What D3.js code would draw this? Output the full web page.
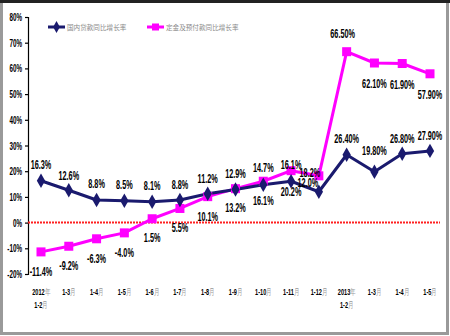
<!DOCTYPE html>
<html>
<head>
<meta charset="utf-8">
<script src="https://cdn.jsdelivr.net/npm/d3@7"></script>
<style>
  html, body { margin: 0; padding: 0; background: #fff; }
  svg { display: block; }
  .num { font-family: "Liberation Sans", "DejaVu Sans", sans-serif; font-weight: bold; fill: #000; }
</style>
</head>
<body>
<svg id="chart" width="450" height="336"></svg>
<script>
// Month periods (first line / second line of each tick label)
const periods = ["2012年", "1-3月", "1-4月", "1-5月", "1-6月", "1-7月", "1-8月", "1-9月",
                 "1-10月", "1-11月", "1-12月", "2013年", "1-3月", "1-4月", "1-5月"];
const periodSub = ["1-2月", "", "", "", "", "", "", "", "", "", "", "1-2月", "", "", ""];

// 国内贷款同比增长率 (%)
const loanGrowth = [16.3, 12.6, 8.8, 8.5, 8.1, 8.8, 11.2, 12.9, 14.7, 16.1, 12.0, 26.4, 19.8, 26.8, 27.9];
// 定金及预付款同比增长率 (%)
const depositGrowth = [-11.4, -9.2, -6.3, -4.0, 1.5, 5.5, 10.1, 13.2, 16.1, 20.2, 18.2, 66.5, 62.1, 61.9, 57.9];

const loanLabels = ["16.3%", "12.6%", "8.8%", "8.5%", "8.1%", "8.8%", "11.2%", "12.9%", "14.7%", "16.1%",
                    "12.0%", "26.40%", "19.80%", "26.80%", "27.90%"];
const depositLabels = ["-11.4%", "-9.2%", "-6.3%", "-4.0%", "1.5%", "5.5%", "10.1%", "13.2%", "16.1%", "20.2%",
                       "18.2%", "66.50%", "62.10%", "61.90%", "57.90%"];

const yTicks = [-20, -10, 0, 10, 20, 30, 40, 50, 60, 70, 80];
const seriesNames = ["国内贷款同比增长率", "定金及预付款同比增长率"];

const BLUE = "#1a1a6e";
const PINK = "#ff00ff";

const svg = d3.select("#chart");

// outer frame
svg.append("rect").attr("x", 1.5).attr("y", 1.5).attr("width", 446).attr("height", 332)
  .attr("fill", "#fff").attr("stroke", "#9a9a9a").attr("stroke-width", 3);
svg.append("line").attr("x1", 0).attr("x2", 450).attr("y1", 1.5).attr("y2", 1.5)
  .attr("stroke", "#222").attr("stroke-width", 3);

const x = d3.scalePoint().domain(d3.range(periods.length)).range([41, 430]);
const y = d3.scaleLinear().domain([-20, 80]).range([274, 17]);

// narrow text helper: a bold face squeezed horizontally
function narrowText(g, tx, ty, size, squeeze) {
  return g.append("text").attr("class", "num")
    .attr("transform", `translate(${tx},${ty}) scale(${squeeze},1)`)
    .attr("text-anchor", "middle").style("font-size", size + "px");
}

// y axis
const yAxis = d3.axisLeft(y).tickValues(yTicks).tickSize(3).tickFormat(d => d + "%");
const gy = svg.append("g").attr("transform", "translate(28,0)").call(yAxis);
gy.select(".domain").attr("stroke", "#000").attr("stroke-width", 1.2);
gy.selectAll(".tick line").attr("stroke", "#000").attr("stroke-width", 1.2);
gy.selectAll(".tick text").attr("class", "num")
  .attr("x", null).attr("dy", null)
  .attr("transform", "translate(-6,3.5) scale(0.6,1)")
  .style("font-size", "10.5px").attr("fill", "#000");

// zero reference line
svg.append("line").attr("x1", 28).attr("x2", 440).attr("y1", y(0)).attr("y2", y(0))
  .attr("stroke", "#ff2020").attr("stroke-width", 2).attr("stroke-dasharray", "2,1");

// x tick labels
const xl = svg.append("g");
function periodLabel(str, i, ty) {
  const m = str.match(/^([\d-]+)(.*)$/);
  const t = narrowText(xl, x(i), ty, 9, 0.62);
  t.append("tspan").text(m[1]);
  t.append("tspan").attr("fill", "#999").style("font-weight", "normal").text(m[2]);
}
periods.forEach((p, i) => {
  periodLabel(p, i, 295);
  if (periodSub[i]) periodLabel(periodSub[i], i, 308);
});

const line = d3.line().x((d, i) => x(i)).y(d => y(d));

// deposit series (drawn first so loan line sits on top where they cross)
svg.append("path").datum(depositGrowth).attr("d", line)
  .attr("fill", "none").attr("stroke", PINK).attr("stroke-width", 3).attr("stroke-linejoin", "round");
svg.append("path").datum(loanGrowth).attr("d", line)
  .attr("fill", "none").attr("stroke", BLUE).attr("stroke-width", 3).attr("stroke-linejoin", "round");

svg.append("g").selectAll("rect").data(depositGrowth).join("rect")
  .attr("x", (d, i) => x(i) - 4.5).attr("y", d => y(d) - 4.5)
  .attr("width", 9).attr("height", 9).attr("fill", PINK);

const diamond = d3.symbol().type(d3.symbolDiamond).size(60);
svg.append("g").selectAll("path").data(loanGrowth).join("path")
  .attr("transform", (d, i) => `translate(${x(i)},${y(d)})`)
  .attr("d", diamond).attr("fill", BLUE);

// value labels
const loanOff = [[0, -17], [0, -15], [0, -17], [0, -17], [0, -17], [0, -16], [0, -16], [0, -16], [0, -18],
                 [0, -17], [-11, -10], [0, -17], [0, -22], [0, -16], [0, -16]];
const depOff = [[0, 19], [0, 19], [0, 19], [0, 19], [0, 18], [0, 19], [0, 19], [0, 18], [0, 19],
                [0, 20], [-9, -4], [-4, -19], [0, 20], [0, 20], [0, 20]];

const lg = svg.append("g");
depositGrowth.forEach((d, i) => {
  narrowText(lg, x(i) + depOff[i][0], y(d) + depOff[i][1] + 5, 13, 0.56).text(depositLabels[i]);
});
loanGrowth.forEach((d, i) => {
  narrowText(lg, x(i) + loanOff[i][0], y(d) + loanOff[i][1] + 5, 13, 0.56).text(loanLabels[i]);
});

// legend
const legend = [
  { name: seriesNames[0], color: BLUE, x: 48, shape: "diamond" },
  { name: seriesNames[1], color: PINK, x: 147, shape: "square" }
];
legend.forEach(l => {
  svg.append("line").attr("x1", l.x).attr("x2", l.x + 17).attr("y1", 27).attr("y2", 27)
    .attr("stroke", l.color).attr("stroke-width", 3);
  if (l.shape === "diamond") {
    svg.append("path").attr("transform", `translate(${l.x + 8.5},27)`)
      .attr("d", d3.symbol().type(d3.symbolDiamond).size(40)).attr("fill", l.color);
  } else {
    svg.append("rect").attr("x", l.x + 5).attr("y", 23.5).attr("width", 7).attr("height", 7).attr("fill", l.color);
  }
  svg.append("text").attr("x", l.x + 19).attr("y", 30)
    .style("font-family", "'Noto Sans CJK SC', sans-serif").style("font-size", "6.6px")
    .attr("fill", "#8a8a8a").text(l.name);
});
</script>
</body>
</html>
